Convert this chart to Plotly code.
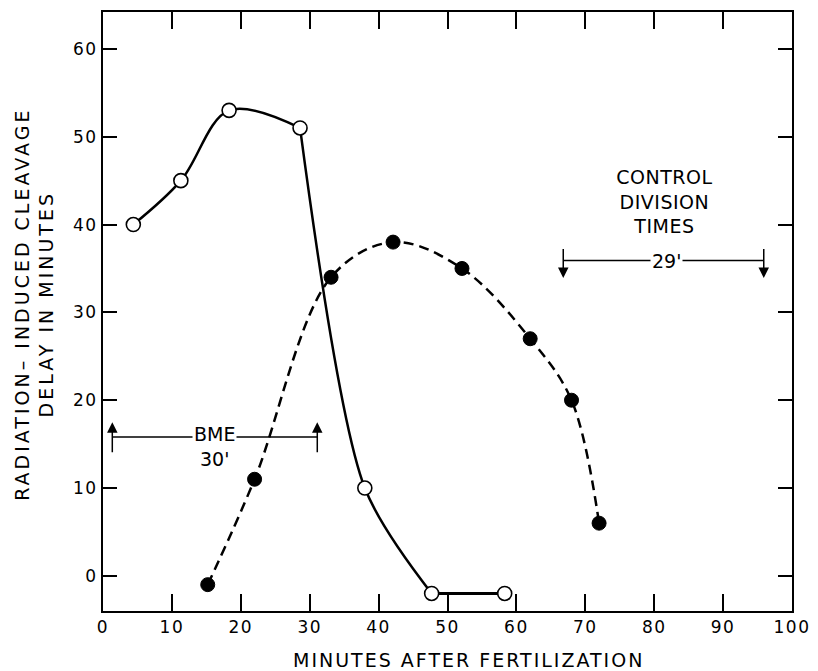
import plotly.graph_objects as go

# ---- data ----
open_x = [4.4, 11.3, 18.3, 28.6, 38.0, 47.7, 58.3]
open_y = [40, 45, 53, 51, 10, -2, -2]
filled_x = [15.2, 22.0, 33.1, 42.1, 52.1, 62.0, 68.0, 72.0]
filled_y = [-1, 11, 34, 38, 35, 27, 20, 6]

x_ticks = [0, 10, 20, 30, 40, 50, 60, 70, 80, 90, 100]
y_ticks = [0, 10, 20, 30, 40, 50, 60]

# annotation brackets: [x_start, x_end, y_line, y_tail, y_tip]
bme_bracket = [1.35, 31.1, 15.8, 13.9, 17.5]
ctrl_bracket = [66.8, 95.9, 35.9, 37.4, 33.9]

FONT = "DejaVu Sans"

fig = go.Figure()

# solid curve drawn in pieces: rising arc, steep fall, flat tail
fig.add_trace(go.Scatter(x=open_x[:4], y=open_y[:4], mode="lines",
                         line=dict(color="black", width=2.5, shape="spline", smoothing=1.0),
                         hoverinfo="skip", showlegend=False))
fig.add_trace(go.Scatter(x=open_x[3:6], y=open_y[3:6], mode="lines",
                         line=dict(color="black", width=2.5, shape="spline", smoothing=0.8),
                         hoverinfo="skip", showlegend=False))
fig.add_trace(go.Scatter(x=open_x[5:], y=open_y[5:], mode="lines",
                         line=dict(color="black", width=3),
                         hoverinfo="skip", showlegend=False))
fig.add_trace(go.Scatter(x=filled_x, y=filled_y, mode="lines",
                         line=dict(color="black", width=2.5, shape="spline", smoothing=1.0,
                                   dash="10px,6px"),
                         hoverinfo="skip", showlegend=False))
fig.add_trace(go.Scatter(x=open_x, y=open_y, mode="markers",
                         marker=dict(symbol="circle", size=14, color="white",
                                     line=dict(color="black", width=1.6)),
                         showlegend=False))
fig.add_trace(go.Scatter(x=filled_x, y=filled_y, mode="markers",
                         marker=dict(symbol="circle", size=14, color="black",
                                     line=dict(color="black", width=1)),
                         showlegend=False))

# bracket lines with arrows
for br in (bme_bracket, ctrl_bracket):
    fig.add_shape(type="line", x0=br[0], x1=br[1], y0=br[2], y1=br[2],
                  xref="x", yref="y", line=dict(color="black", width=1.5))
    for xe in (br[0], br[1]):
        fig.add_annotation(x=xe, y=br[4], ax=xe, ay=br[3], xref="x", yref="y",
                           axref="x", ayref="y", text="", showarrow=True,
                           arrowhead=2, arrowsize=1.4, arrowwidth=1.5,
                           arrowcolor="black", standoff=0, startstandoff=0)

tf = dict(family=FONT, size=19, color="black")
mid_bme = (bme_bracket[0] + bme_bracket[1]) / 2
fig.add_annotation(x=mid_bme, y=16.1, text="BME",
                   showarrow=False, font=tf, bgcolor="white", borderpad=1,
                   xref="x", yref="y")
fig.add_annotation(x=mid_bme, y=13.3, text="30'",
                   showarrow=False, font=tf, xref="x", yref="y")
fig.add_annotation(x=81.8, y=ctrl_bracket[2], text="29'",
                   showarrow=False, font=tf, bgcolor="white", borderpad=1,
                   xref="x", yref="y")
fig.add_annotation(x=81.5, y=42.6, text="CONTROL<br>DIVISION<br>TIMES",
                   showarrow=False, font=tf, xref="x", yref="y")

# axis titles
fig.add_annotation(xref="paper", yref="paper", x=0.531, y=-0.0815,
                   text="MINUTES AFTER FERTILIZATION", showarrow=False,
                   font=dict(family=FONT, size=19, color="black"),
                   xanchor="center", yanchor="middle")
fig.add_annotation(xref="paper", yref="paper", x=0, xshift=-69, y=0.512,
                   text="RADIATION– INDUCED CLEAVAGE<br>DELAY IN MINUTES", showarrow=False,
                   textangle=-90,
                   font=dict(family=FONT, size=19, color="black"),
                   xanchor="center", yanchor="middle")

axis_common = dict(showgrid=False, zeroline=False, showline=True, linecolor="black",
                   linewidth=2, mirror="ticks", ticks="inside", tickcolor="black",
                   tickwidth=1.5, tickfont=dict(family=FONT, size=17, color="black"))

fig.update_xaxes(range=[0, 100], tickvals=x_ticks, ticklen=17, **axis_common)
fig.update_yaxes(range=[-4, 64.2], tickvals=y_ticks, ticklen=14, **axis_common)

fig.update_layout(width=818, height=671, margin=dict(l=103, r=20, t=10, b=60),
                  paper_bgcolor="white", plot_bgcolor="white",
                  font=dict(family=FONT, color="black"), showlegend=False)

# widen the lettering like the original stencil-style text
post_js = """
(function(){
  function apply(){
    var gd = document.getElementById('{plot_id}');
    if(!gd) return;
    gd.querySelectorAll('.xtick text, .ytick text').forEach(function(t){
      t.style.letterSpacing = '1.5px';
    });
    gd.querySelectorAll('text.annotation-text').forEach(function(t){
      var s = t.textContent || '';
      if (s.indexOf('MINUTES AFTER') === 0) t.style.letterSpacing = '2px';
      else if (s.indexOf('RADIATION') === 0) t.style.letterSpacing = '3px';
      else if (s.indexOf('CONTROL') === 0) t.style.letterSpacing = '0.5px';
    });
  }
  apply();
  var gd = document.getElementById('{plot_id}');
  if (gd && gd.on) gd.on('plotly_afterplot', apply);
})();
"""

fig.write_html("out.html", post_script=post_js)
